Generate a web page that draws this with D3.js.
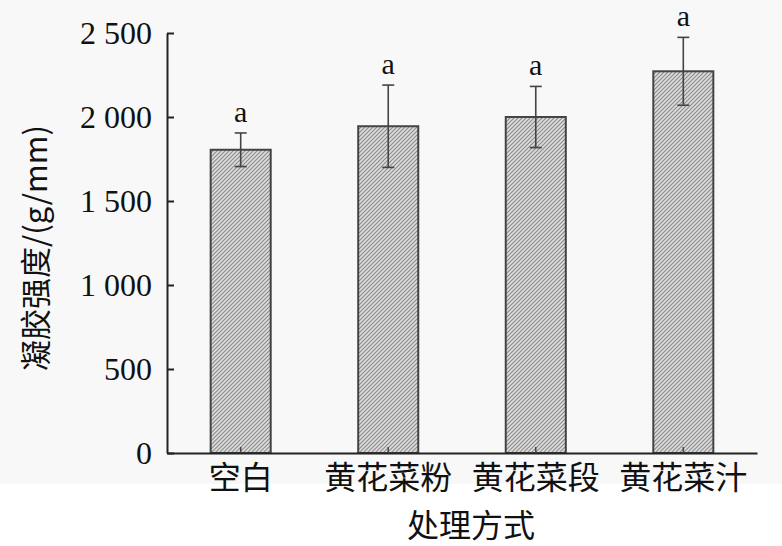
<!DOCTYPE html>
<html>
<head>
<meta charset="utf-8">
<script src="https://cdn.jsdelivr.net/npm/d3@7/dist/d3.min.js"></script>
<style>
  html, body { margin: 0; padding: 0; background: #ffffff; }
  svg { display: block; }
</style>
</head>
<body>
<script>
// ---- data ----
const categories = ["空白", "黄花菜粉", "黄花菜段", "黄花菜汁"];
const means = [1805, 1945, 2000, 2272];
const errors = [100, 245, 182, 202];
const sigLetters = ["a", "a", "a", "a"];
const yTicks = [0, 500, 1000, 1500, 2000, 2500];
const yTitle = "凝胶强度/(g/mm)";
const xTitle = "处理方式";

const W = 782, H = 546;
const svg = d3.select("body").append("svg").attr("width", W).attr("height", H);

svg.append("rect").attr("x", 0).attr("y", 0).attr("width", W).attr("height", 484).attr("fill", "#f8f8f8");

const defs = svg.append("defs");
const pat = defs.append("pattern")
  .attr("id", "hatch").attr("patternUnits", "userSpaceOnUse")
  .attr("width", 4).attr("height", 4);
pat.append("rect").attr("width", 4).attr("height", 4).attr("fill", "#dedede");
pat.append("path").attr("d", "M-1,1 l2,-2 M0,4 l4,-4 M3,5 l2,-2")
  .attr("stroke", "#8c8c8c").attr("stroke-width", 1.2);

const x0 = 167, x1 = 757, yTop = 33, yBot = 453;
const x = d3.scaleBand().domain(categories).range([x0, x1]).paddingInner(0.593).paddingOuter(0.296);
const y = d3.scaleLinear().domain([0, 2500]).range([yBot, yTop]);

const fmt = d3.formatLocale({ decimal: ".", thousands: " ", grouping: [3], currency: ["", ""] }).format(",");

// bars
const bars = svg.append("g");
bars.selectAll("rect").data(categories).join("rect")
  .attr("x", d => x(d))
  .attr("y", (d, i) => y(means[i]))
  .attr("width", x.bandwidth())
  .attr("height", (d, i) => yBot - y(means[i]))
  .attr("fill", "url(#hatch)")
  .attr("stroke", "#444")
  .attr("stroke-width", 2);

// error bars
const eb = svg.append("g").attr("stroke", "#444").attr("stroke-width", 1.6);
categories.forEach((c, i) => {
  const cx = x(c) + x.bandwidth() / 2;
  const t = y(means[i] + errors[i]), b = y(means[i] - errors[i]);
  eb.append("line").attr("x1", cx).attr("x2", cx).attr("y1", t).attr("y2", b);
  eb.append("line").attr("x1", cx - 6).attr("x2", cx + 6).attr("y1", t).attr("y2", t);
  eb.append("line").attr("x1", cx - 6).attr("x2", cx + 6).attr("y1", b).attr("y2", b);
  svg.append("text").attr("x", cx).attr("y", t - 11)
    .attr("text-anchor", "middle")
    .attr("font-family", "Liberation Serif, serif").attr("font-size", 30)
    .attr("fill", "#111").text(sigLetters[i]);
});

// y axis
const yAxis = svg.append("g").attr("transform", `translate(${x0},0)`)
  .call(d3.axisLeft(y).tickValues(yTicks).tickFormat(fmt).tickSize(-7).tickSizeOuter(0).tickPadding(15));
yAxis.select(".domain").attr("stroke", "#222").attr("stroke-width", 2);
yAxis.selectAll(".tick line").attr("stroke", "#222").attr("stroke-width", 2);
yAxis.selectAll(".tick text").attr("font-family", "Liberation Serif, serif").attr("font-size", 32).attr("fill", "#111");

// x axis
const xAxis = svg.append("g").attr("transform", `translate(0,${yBot})`)
  .call(d3.axisBottom(x).tickSize(-6).tickSizeOuter(0).tickPadding(13));
xAxis.select(".domain").attr("stroke", "#222").attr("stroke-width", 2);
xAxis.selectAll(".tick line").attr("stroke", "#444").attr("stroke-width", 1.5);
xAxis.selectAll(".tick text").attr("font-family", "Noto Sans CJK SC, sans-serif").attr("font-size", 32).attr("fill", "#111")
  .attr("dy", "0.71em");

// titles
svg.append("text").attr("x", 471).attr("y", 537).attr("text-anchor", "middle")
  .attr("font-family", "Noto Sans CJK SC, sans-serif").attr("font-size", 32).attr("fill", "#111").text(xTitle);
svg.append("text").attr("transform", "translate(47,248) rotate(-90)").attr("text-anchor", "middle")
  .attr("font-family", "Noto Sans CJK SC, sans-serif").attr("font-size", 31).attr("fill", "#111").text(yTitle);
</script>
</body>
</html>
